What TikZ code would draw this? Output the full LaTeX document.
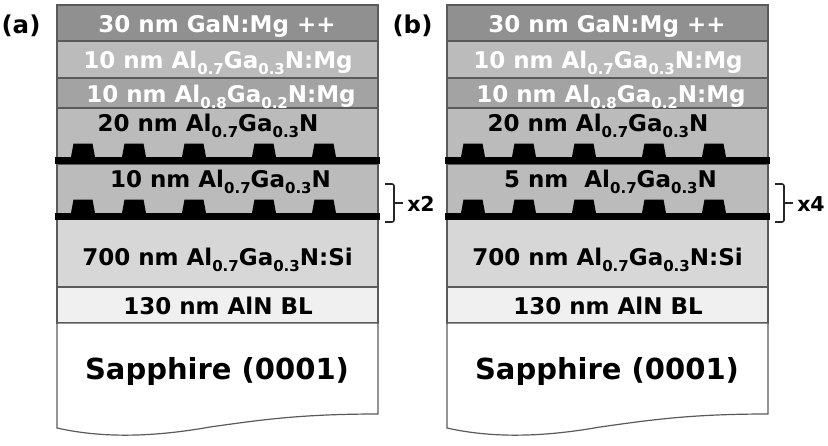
\documentclass[tikz,border=0pt]{standalone}
\usepackage{fontspec}
\setmainfont{DejaVu Sans}
\newcommand{\lsub}[1]{\raisebox{-0.3em}{\fontsize{15}{16}\selectfont #1}}
\newcommand{\AlGa}[2]{Al\lsub{#1}Ga\lsub{#2}}
\tikzset{
  every node/.style={inner sep=0pt,outer sep=0pt},
  layer/.style={draw=edgegray,line width=1.2pt,minimum width=321pt,anchor=north west},
  labeltext/.style={font=\fontsize{23}{26}\selectfont\bfseries,text=black,anchor=base},
  whitetext/.style={labeltext,text=white},
  bigtext/.style={font=\fontsize{29}{32}\selectfont\bfseries,text=black,anchor=base},
  panel/.style={font=\fontsize{24.5}{28}\selectfont\bfseries,text=black,anchor=base},
  bump/.style={fill=black,draw=none},
  barline/.style={fill=black,draw=none,minimum width=325pt,minimum height=7.5pt},
  brace/.style={draw=black!85,line width=1.6pt,rounded corners=2pt},
}
\definecolor{edgegray}{HTML}{5A5A5A}
\definecolor{lgan}{HTML}{909090}
\definecolor{lmga}{HTML}{BBBBBB}
\definecolor{lmgb}{HTML}{A3A3A3}
\definecolor{lbar}{HTML}{BBBBBB}
\definecolor{lsi}{HTML}{D7D7D7}
\definecolor{lbl}{HTML}{F0F0F0}
\newcommand{\stack}[4]{%
  \begin{scope}[xshift=#2pt]
    \node[layer,fill=lgan,minimum height=36pt] (#1gan) at (57,5) {};
    \node[layer,fill=lmga,minimum height=37pt] (#1mga) at (57,41) {};
    \node[layer,fill=lmgb,minimum height=30pt] (#1mgb) at (57,78) {};
    \node[layer,fill=lbar,minimum height=52pt] (#1top) at (57,108) {};
    \node[layer,fill=lbar,minimum height=52pt] (#1mid) at (57,164) {};
    \node[layer,fill=lsi,minimum height=71pt] (#1si) at (57,216) {};
    \node[layer,fill=lbl,minimum height=36pt] (#1bl) at (57,287) {};
    \draw[draw=edgegray,line width=1.2pt,fill=white] (57,323) -- (378,323) -- (378,414)
      .. controls (300,414) and (260,420) .. (210,427)
      .. controls (165,435) and (110,440) .. (57,428) -- cycle;
    \node[barline] (#1bara) at (217.5,160.5) {};
    \node[barline] (#1barb) at (217.5,216.5) {};
    \foreach \cx in {83,134,194,264,324} {
      \fill[bump] (\cx-12,157) -- (\cx-9.5,143.5) -- (\cx+9.5,143.5) -- (\cx+12,157) -- cycle;
      \fill[bump] (\cx-12,213) -- (\cx-9.5,199.5) -- (\cx+9.5,199.5) -- (\cx+12,213) -- cycle;
    }
    \node[whitetext] (#1tgan) at (217,32) {30 nm GaN:Mg ++};
    \node[whitetext] (#1tmga) at (218,68) {10 nm \AlGa{0.7}{0.3}N:Mg};
    \node[whitetext] (#1tmgb) at (221,102) {10 nm \AlGa{0.8}{0.2}N:Mg};
    \node[labeltext] (#1ttop) at (208,131) {20 nm \AlGa{0.7}{0.3}N};
    \node[labeltext] (#1tmid) at (220.5,187) {#3};
    \node[labeltext] (#1tsi) at (217.5,265) {700 nm \AlGa{0.7}{0.3}N:Si};
    \node[labeltext] (#1tbl) at (218,314) {130 nm AlN BL};
    \node[bigtext] (#1tsa) at (217,379) {Sapphire (0001)};
    \coordinate (#1ba) at (385,184);
    \coordinate (#1bb) at (385,222);
    \coordinate (#1bc) at (403,203);
    \draw[brace] (#1ba) -- (394,184) -- (394,222) -- (#1bb);
    \draw[brace,rounded corners=0pt] (394,203) -- (#1bc);
    \node[font=\fontsize{20.5}{24}\selectfont\bfseries,anchor=base] (#1x) at (421,211) {#4};
  \end{scope}}
\begin{document}
\begin{tikzpicture}[x=1pt,y=-1pt]
\useasboundingbox (0,0) rectangle (828,445);
\stack{a}{0}{10 nm \AlGa{0.7}{0.3}N}{x2}
\stack{b}{390}{5 nm\ \ \AlGa{0.7}{0.3}N}{x4}
\node[panel] (pa) at (21,33) {(a)};
\node[panel] (pb) at (412.5,33) {(b)};
\end{tikzpicture}
\end{document}
